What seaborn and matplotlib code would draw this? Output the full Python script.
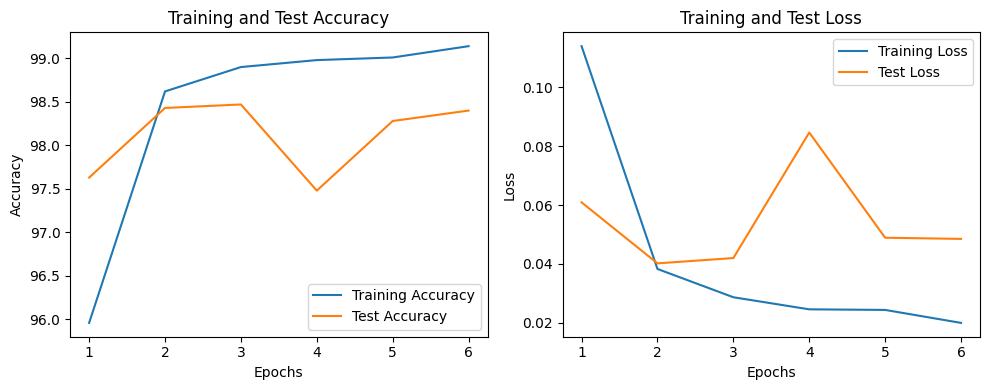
import matplotlib
matplotlib.use("Agg")
import matplotlib.pyplot as plt
import seaborn as sns

epochs = [1, 2, 3, 4, 5, 6]
train_acc = [95.96, 98.62, 98.90, 98.98, 99.01, 99.14]
test_acc = [97.63, 98.43, 98.47, 97.48, 98.28, 98.40]
train_loss = [0.1139, 0.0383, 0.0287, 0.0246, 0.0244, 0.0200]
test_loss = [0.0609, 0.0402, 0.0420, 0.0846, 0.0489, 0.0485]

fig, axes = plt.subplots(1, 2, figsize=(10, 4), dpi=100)

ax = axes[0]
sns.lineplot(x=epochs, y=train_acc, ax=ax, label="Training Accuracy", color="#1f77b4")
sns.lineplot(x=epochs, y=test_acc, ax=ax, label="Test Accuracy", color="#ff7f0e")
ax.set_title("Training and Test Accuracy")
ax.set_xlabel("Epochs")
ax.set_ylabel("Accuracy")
ax.legend(loc="lower right")

ax = axes[1]
sns.lineplot(x=epochs, y=train_loss, ax=ax, label="Training Loss", color="#1f77b4")
sns.lineplot(x=epochs, y=test_loss, ax=ax, label="Test Loss", color="#ff7f0e")
ax.set_title("Training and Test Loss")
ax.set_xlabel("Epochs")
ax.set_ylabel("Loss")
ax.legend(loc="upper right")

plt.tight_layout()
plt.savefig("out.png", bbox_inches="tight")
